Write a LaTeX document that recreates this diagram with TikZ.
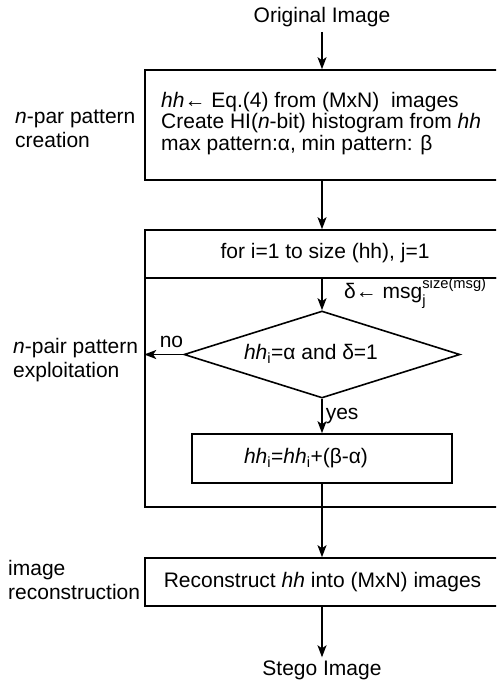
\documentclass[tikz,border=0pt]{standalone}
\usepackage{amsmath}
\usepackage{fontspec}
\setmainfont{Liberation Sans}
\usetikzlibrary{arrows.meta,shapes.geometric}
\begin{document}
\begin{tikzpicture}[x=1pt,y=-1pt,
  every node/.style={font=\fontsize{21}{24}\selectfont, inner sep=0pt},
  boxshape/.style={draw, line width=1.6pt, rectangle},
  flow/.style={line width=1.6pt, -{Stealth[length=12pt,width=9pt,inset=3pt]}},
  lbl/.style={anchor=west, align=left}]
\useasboundingbox (0,0) rectangle (496,683);
\clip (0,0) rectangle (496,683);

% boxes
\node[boxshape, minimum width=355pt, minimum height=110pt] (b1) at (322.5,125) {};
\node[lbl, font=\fontsize{21}{21.5}\selectfont] (t1) at (161,123.5)
  {\textit{hh}← Eq.(4) from (MxN)\ \ images\\
   Create HI(\textit{n}-bit) histogram from \textit{hh}\\
   max pattern:α, min pattern: β};

\node[boxshape, minimum width=355pt, minimum height=48pt] (b2) at (322.5,254) {};
\node (t2) at (325,253) {for i=1 to size (hh), j=1};

\node[boxshape, minimum width=355pt, minimum height=229pt] (loop) at (322.5,392.5) {};

\node[draw, diamond, line width=1.6pt, minimum width=276pt, minimum height=87pt] (dia) at (322,354.5) {};
\node (dt) at (311,354) {\textit{hh}\textsubscript{i}=α and δ=1};

\node[boxshape, minimum width=260pt, minimum height=49pt] (b3) at (322,458.5) {};
\node (t3) at (306,458.5) {\textit{hh}\textsubscript{i}=\textit{hh}\textsubscript{i}+(β-α)};

\node[boxshape, minimum width=355pt, minimum height=48pt] (b4) at (322.5,582) {};
\node (t4) at (322.5,582) {Reconstruct \textit{hh} into (MxN) images};

% terminals
\node (orig) at (322,17) {Original Image};
\node (stego) at (322,670) {Stego Image};

% side labels
\node[lbl] (l1) at (15,128.5) {\textit{n}-par pattern\\creation};
\node[lbl] (l2) at (13,360.5) {\textit{n}-pair pattern\\exploitation};
\node[lbl] (l3) at (8,579.5) {image\\reconstruction};

% delta label
\node[anchor=west] (dl) at (344,293) {δ← msg$^{\text{size(msg)}}_{\text{j}}$};

% connectors
\draw[flow] ([yshift=-5pt]orig.south) -- (orig.south |- b1.north);
\draw[flow] (orig.south |- b1.south) -- (orig.south |- b2.north);
\draw[flow] (dia.north |- b2.south) -- (dia.north);
\draw[flow] (dia.west) -- (dia.west -| loop.west) node[pos=0.3, above=6pt] {no};
\draw[flow] (dia.south) -- (dia.south |- b3.north) node[midway, right=3pt] {yes};
\draw[flow] (b3.south) -- (b3.south |- b4.north);
\draw[flow] (b3.south |- b4.south) -- ([yshift=3pt]stego.north);
\end{tikzpicture}
\end{document}
